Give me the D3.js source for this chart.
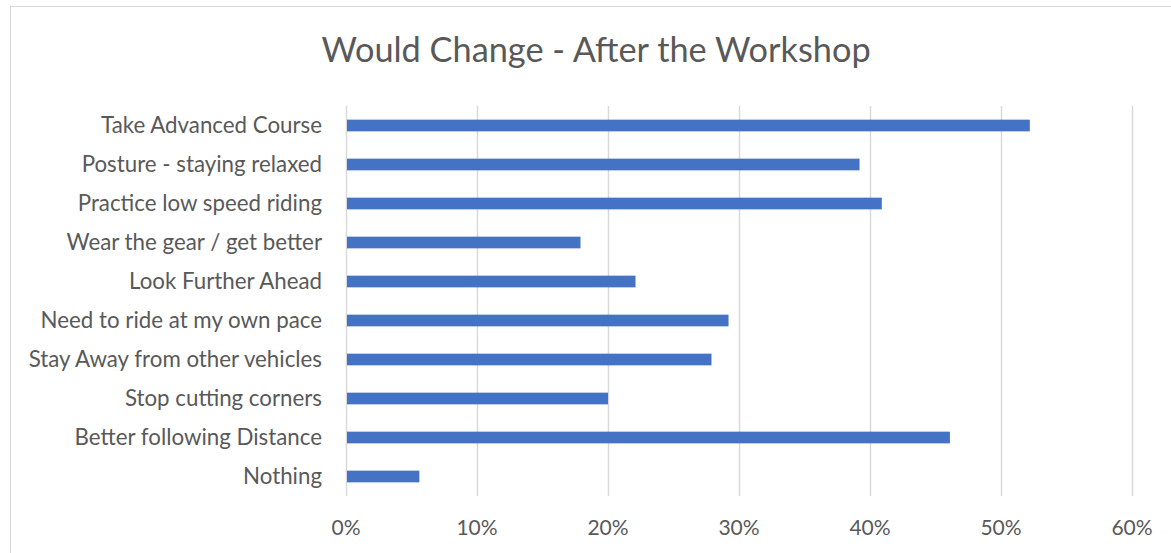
<!DOCTYPE html>
<html>
<head>
<meta charset="utf-8">
<script src="https://cdn.jsdelivr.net/npm/d3@7"></script>
<style>
  body { margin: 0; background: #fff; }
  text { font-family: Lato, "Open Sans", sans-serif; fill: #595959; }
</style>
</head>
<body>
<script>
var w = 1171;
var h = 553;

var categories = [
  "Take Advanced Course",
  "Posture - staying relaxed",
  "Practice low speed riding",
  "Wear the gear / get better",
  "Look Further Ahead",
  "Need to ride at my own pace",
  "Stay Away from other vehicles",
  "Stop cutting corners",
  "Better following Distance",
  "Nothing"
];
var values = [0.522, 0.392, 0.409, 0.179, 0.221, 0.292, 0.279, 0.200, 0.461, 0.056];
var ticks = [0, 0.1, 0.2, 0.3, 0.4, 0.5, 0.6];

var data = categories.map((c, i) => ({ name: c, value: values[i] }));

var svg = d3.select("body").append("svg")
  .attr("width", w)
  .attr("height", h);

// chart border
svg.append("rect")
  .attr("x", 10.5)
  .attr("y", 6.5)
  .attr("width", w + 10)
  .attr("height", h + 10)
  .attr("fill", "none")
  .attr("stroke", "#d9d9d9");

var x = d3.scaleLinear().domain([0, 0.6]).range([346, 1132]);
var y = d3.scaleBand().domain(categories).range([106, 496]).paddingInner(0.7).paddingOuter(0.35);

// Title
svg.append("text")
  .attr("x", 596)
  .attr("y", 62)
  .attr("text-anchor", "middle")
  .style("font-size", "34.3px")
  .text("Would Change - After the Workshop");

// Gridlines
svg.append("g").selectAll("line")
  .data(ticks)
  .enter().append("line")
  .attr("x1", d => Math.round(x(d)) + 0.5)
  .attr("x2", d => Math.round(x(d)) + 0.5)
  .attr("y1", 106)
  .attr("y2", 496)
  .attr("stroke", "#d9d9d9")
  .attr("stroke-width", 1.5);

// Bars
svg.append("g").selectAll("rect")
  .data(data)
  .enter().append("rect")
  .attr("x", x(0) + 1)
  .attr("y", d => y(d.name))
  .attr("width", d => x(d.value) - x(0) - 1)
  .attr("height", y.bandwidth())
  .attr("fill", "#4472c4");

// Category labels
svg.append("g").selectAll("text")
  .data(categories)
  .enter().append("text")
  .attr("x", 322)
  .attr("y", d => y(d) + y.bandwidth() / 2)
  .attr("dy", "0.35em")
  .attr("text-anchor", "end")
  .style("font-size", "22.3px")
  .text(d => d);

// Tick labels
svg.append("g").selectAll("text")
  .data(ticks)
  .enter().append("text")
  .attr("x", d => x(d))
  .attr("y", 528)
  .attr("dy", "0.35em")
  .attr("text-anchor", "middle")
  .style("font-size", "21px")
  .text(d => d3.format(".0%")(d));
</script>
</body>
</html>
